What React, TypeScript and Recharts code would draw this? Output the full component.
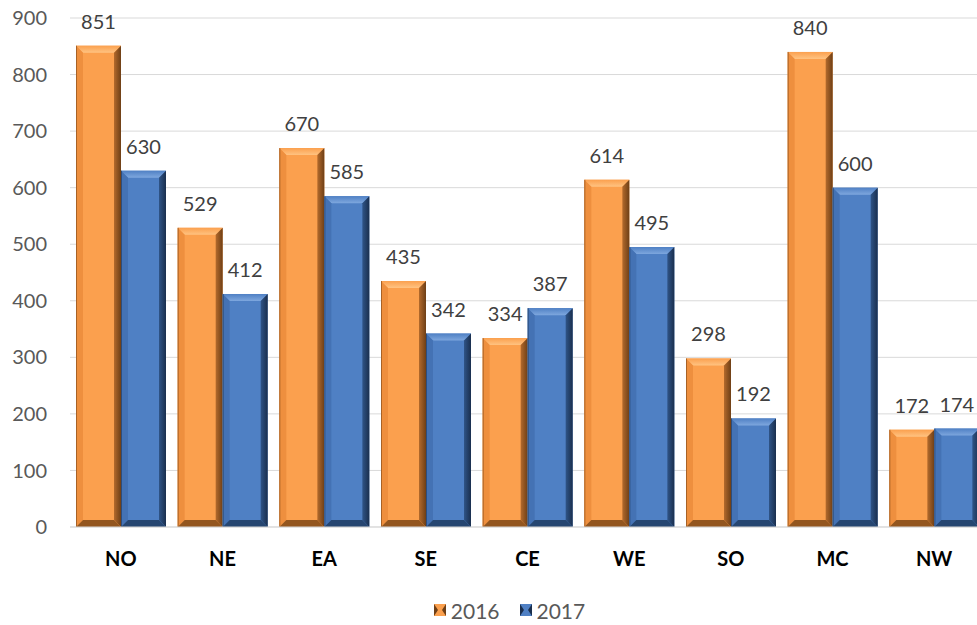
import { BarChart, Bar, XAxis, YAxis, CartesianGrid, Legend, LabelList } from 'recharts';

const regions = ['NO', 'NE', 'EA', 'SE', 'CE', 'WE', 'SO', 'MC', 'NW'];
const values2016 = [851, 529, 670, 435, 334, 614, 298, 840, 172];
const values2017 = [630, 412, 585, 342, 387, 495, 192, 600, 174];
const yTicks = [0, 100, 200, 300, 400, 500, 600, 700, 800, 900];

const FONT = 'Lato, "Open Sans", sans-serif';

// colours for the bevelled bar faces
const palette: Record<string, { face: string; top: string; left: string; right1: string; right2: string; bottom: string; edge: string }> = {
  orange: { face: '#FBA04E', top: '#FFC382', left: '#EE8F3E', right1: '#B36A2C', right2: '#6E3F16', bottom: '#93561F', edge: '#7A4518' },
  blue: { face: '#4F80C4', top: '#7EA7DE', left: '#4472B4', right1: '#2F5487', right2: '#1A2F4E', bottom: '#264671', edge: '#1E3656' },
};

const data = regions.map((r, i) => ({ region: r, y2016: values2016[i], y2017: values2017[i] }));

function BevelBar(props: any) {
  const { x, y, width, height, index, tone } = props;
  if (!height || height <= 0) return null;
  const c = palette[tone];
  const b = Math.min(7, width / 3, height / 2);
  const id = `rg-${tone}-${index}`;
  const x2 = x + width;
  const y2 = y + height;
  return (
    <g>
      <defs>
        <linearGradient id={id} x1="0" y1="0" x2="1" y2="0">
          <stop offset="0%" stopColor={c.right1} />
          <stop offset="100%" stopColor={c.right2} />
        </linearGradient>
        <linearGradient id={`${id}-t`} x1="0" y1="0" x2="0" y2="1">
          <stop offset="0%" stopColor={c.face} />
          <stop offset="100%" stopColor={c.top} />
        </linearGradient>
      </defs>
      <rect x={x} y={y} width={width} height={height} fill={c.face} />
      <polygon points={`${x},${y} ${x2},${y} ${x2 - b},${y + b} ${x + b},${y + b}`} fill={`url(#${id}-t)`} />
      <polygon points={`${x},${y} ${x + b},${y + b} ${x + b},${y2 - b} ${x},${y2}`} fill={c.left} />
      <polygon points={`${x2},${y} ${x2},${y2} ${x2 - b},${y2 - b} ${x2 - b},${y + b}`} fill={`url(#${id})`} />
      <polygon points={`${x},${y2} ${x + b},${y2 - b} ${x2 - b},${y2 - b} ${x2},${y2}`} fill={c.bottom} />
      <line x1={x + 0.5} y1={y} x2={x + 0.5} y2={y2} stroke={c.edge} strokeOpacity={0.6} />
    </g>
  );
}

function LegendIcon({ tone }: { tone: string }) {
  const c = palette[tone];
  return (
    <svg width={12} height={12} style={{ marginRight: 5, verticalAlign: 'middle' }}>
      <rect x={0} y={0} width={12} height={12} fill={c.face} />
      <polygon points="0,0 4,6 0,12" fill={c.right2} />
      <polygon points="12,0 8,6 12,12" fill={c.right2} />
    </svg>
  );
}

function renderLegend() {
  const items = [
    { label: '2016', tone: 'orange' },
    { label: '2017', tone: 'blue' },
  ];
  return (
    <div style={{ display: 'flex', justifyContent: 'center', alignItems: 'center', height: 26, fontFamily: FONT, fontSize: 21, color: '#595959', paddingLeft: 34 }}>
      {items.map(it => (
        <span key={it.label} style={{ display: 'inline-flex', alignItems: 'center', margin: '0 10px' }}>
          <LegendIcon tone={it.tone} />
          {it.label}
        </span>
      ))}
    </div>
  );
}

export default function App() {
  return (
    <div style={{ position: 'absolute', left: 0, top: 0, width: 977, height: 625, overflow: 'hidden', background: '#fff' }}>
      <BarChart
        width={985}
        height={625}
        data={data}
        margin={{ top: 18, right: 0, bottom: 2, left: 0 }}
        barCategoryGap={6}
        barGap={0}
        style={{ fontFamily: FONT }}
      >
        <CartesianGrid vertical={false} stroke="#D9D9D9" />
        <XAxis
          dataKey="region"
          height={70}
          tickLine={false}
          tickSize={0}
          tickMargin={25}
          axisLine={{ stroke: '#D9D9D9' }}
          tick={{ fill: '#000', fontSize: 20, fontWeight: 700, fontFamily: FONT }}
        />
        <YAxis
          width={70}
          domain={[0, 900]}
          ticks={yTicks}
          axisLine={false}
          tickLine={false}
          tickSize={0}
          tickMargin={23}
          tick={{ fill: '#595959', fontSize: 20, fontFamily: FONT }}
        />
        <Legend verticalAlign="bottom" height={26} content={renderLegend} />
        <Bar dataKey="y2016" name="2016" fill="#FBA04E" isAnimationActive={false} shape={(p: any) => <BevelBar {...p} tone="orange" />}>
          <LabelList dataKey="y2016" position="top" offset={17} fill="#404040" fontSize={20} fontFamily={FONT} />
        </Bar>
        <Bar dataKey="y2017" name="2017" fill="#4F80C4" isAnimationActive={false} shape={(p: any) => <BevelBar {...p} tone="blue" />}>
          <LabelList dataKey="y2017" position="top" offset={17} fill="#404040" fontSize={20} fontFamily={FONT} />
        </Bar>
      </BarChart>
    </div>
  );
}
